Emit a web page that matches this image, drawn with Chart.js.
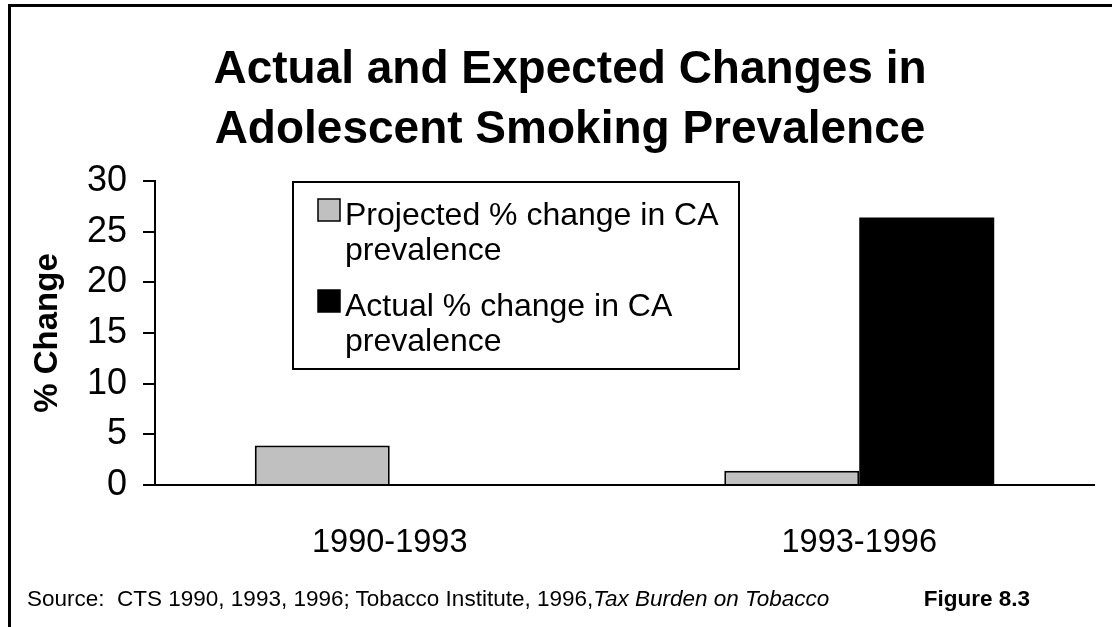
<!DOCTYPE html>
<html lang="en">
<head>
  <meta charset="UTF-8" />
  <title>Actual and Expected Changes in Adolescent Smoking Prevalence</title>
  <script src="https://cdn.jsdelivr.net/npm/chart.js"></script>
  <style>
    body {
      margin: 0;
      background: #fff;
      font-family: Arial, "Liberation Sans", sans-serif;
      color: #000;
      overflow: hidden;
    }

    #page {
      position: relative;
      width: 1112px;
      height: 627px;
    }

    #frame {
      position: absolute;
      left: 8px;
      top: 4px;
      width: 1200px;
      height: 700px;
      border-left: 3px solid #000;
      border-top: 3px solid #000;
    }

    #title {
      position: absolute;
      left: 170px;
      width: 800px;
      top: 37px;
      text-align: center;
      font-weight: bold;
      font-size: 46px;
      line-height: 60px;
    }

    #source, #figno {
      position: absolute;
      top: 586px;
      font-size: 22.5px;
      white-space: nowrap;
    }

    #source { left: 27px; }
    #figno { right: 82px; font-weight: bold; }

    canvas {
      position: absolute;
      left: 0;
      top: 0;
    }
  </style>
</head>
<body>
  <div id="page">
    <div id="frame"></div>
    <canvas id="chart" width="1112" height="627"></canvas>
    <div id="title">Actual and Expected Changes in<br>Adolescent Smoking Prevalence</div>
    <div id="source">Source:&nbsp; CTS 1990, 1993, 1996; Tobacco Institute, 1996,<i>Tax Burden on Tobacco</i></div>
    <div id="figno">Figure 8.3</div>
  </div>

  <script>
    const categories = ['1990-1993', '1993-1996'];
    const projected = [3.9, 1.4];
    const actual = [0, 26.4];
    const seriesNames = [
      ['Projected % change in CA', 'prevalence'],
      ['Actual % change in CA', 'prevalence']
    ];
    const yMin = 0, yMax = 30, yStep = 5;

    // boxed legend sitting inside the plot, like the original slide
    const boxLegend = {
      id: 'boxLegend',
      afterDraw(chart) {
        const ctx = chart.ctx;
        const area = chart.chartArea;
        const x = area.left + 138, y = area.top + 1;
        const w = 446, h = 187;
        ctx.save();
        ctx.lineWidth = 2;
        ctx.strokeStyle = '#000';
        ctx.strokeRect(x, y, w, h);
        ctx.font = '32px Arial, "Liberation Sans", sans-serif';
        ctx.textBaseline = 'alphabetic';
        chart.data.datasets.forEach((ds, i) => {
          const top = y + 17 + i * 91;
          ctx.fillStyle = ds.backgroundColor;
          ctx.fillRect(x + 25, top, 22, 22);
          ctx.lineWidth = 1.5;
          ctx.strokeRect(x + 25, top, 22, 22);
          ctx.fillStyle = '#000';
          ds.label.forEach((line, j) => {
            ctx.fillText(line, x + 52, top + 26 + j * 35);
          });
        });
        ctx.restore();
      }
    };

    new Chart(document.getElementById('chart'), {
      type: 'bar',
      data: {
        labels: categories,
        datasets: [
          {
            label: seriesNames[0],
            data: projected,
            backgroundColor: '#c0c0c0',
            borderColor: '#000',
            borderWidth: 2,
            categoryPercentage: 0.575,
            barPercentage: 1
          },
          {
            label: seriesNames[1],
            data: actual,
            backgroundColor: '#000',
            borderColor: '#000',
            borderWidth: 0,
            categoryPercentage: 0.575,
            barPercentage: 1
          }
        ]
      },
      options: {
        responsive: false,
        animation: false,
        layout: {
          padding: { top: 181, right: 18, bottom: 62, left: 0 }
        },
        plugins: {
          legend: { display: false },
          title: { display: false },
          tooltip: { enabled: false }
        },
        scales: {
          x: {
            afterFit(scale) { scale.height = 80; },
            grid: { display: true, drawOnChartArea: false, drawTicks: false },
            border: { display: true, color: '#000', width: 2 },
            ticks: {
              color: '#000',
              padding: 39,
              font: { family: 'Arial, "Liberation Sans", sans-serif', size: 32.5 }
            }
          },
          y: {
            min: yMin,
            max: yMax,
            afterFit(scale) { scale.width = 155; },
            grid: {
              display: true,
              drawOnChartArea: false,
              drawTicks: true,
              tickLength: 12,
              color: '#000',
              lineWidth: 2
            },
            border: { display: true, color: '#000', width: 2 },
            ticks: {
              stepSize: yStep,
              color: '#000',
              padding: 16,
              font: { family: 'Arial, "Liberation Sans", sans-serif', size: 36 }
            },
            title: {
              display: true,
              text: '% Change',
              color: '#000',
              padding: { top: 28, bottom: 0 },
              font: { family: 'Arial, "Liberation Sans", sans-serif', size: 33, weight: 'bold' }
            }
          }
        }
      },
      plugins: [boxLegend]
    });
  </script>
</body>
</html>
